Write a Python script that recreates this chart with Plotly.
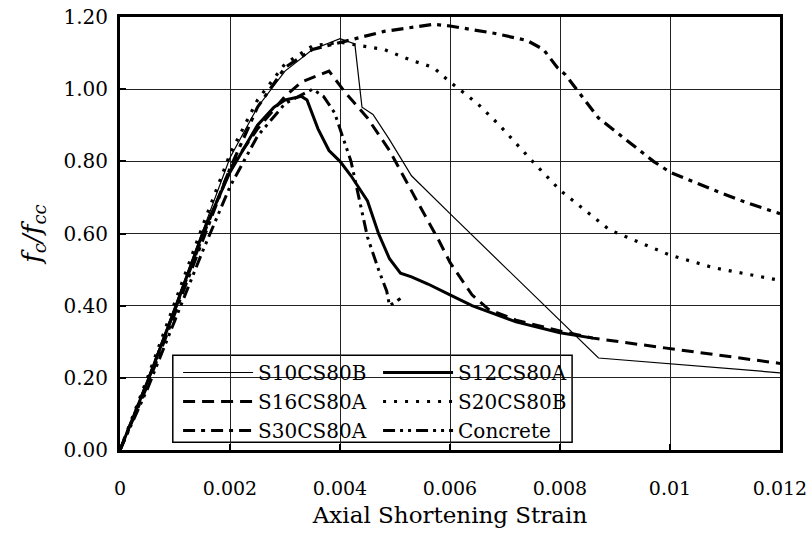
import plotly.graph_objects as go

# ---------------- data ----------------
s10_x = [0, 0.0005, 0.001, 0.0015, 0.002, 0.0025, 0.003, 0.0035, 0.004, 0.00427, 0.0044, 0.0046, 0.0049, 0.0053, 0.0055, 0.006, 0.0087, 0.012]
s10_y = [0, 0.195, 0.40, 0.605, 0.81, 0.95, 1.05, 1.11, 1.14, 1.125, 0.95, 0.93, 0.86, 0.76, 0.73, 0.655, 0.255, 0.214]

s12_x = [0, 0.0005, 0.001, 0.0015, 0.002, 0.0025, 0.0028, 0.003, 0.0033, 0.0034, 0.0036, 0.0038, 0.004, 0.0042, 0.0045, 0.0047, 0.0049, 0.0051, 0.0053, 0.0056, 0.006, 0.0064, 0.0072, 0.008, 0.0086]
s12_y = [0, 0.19, 0.39, 0.60, 0.77, 0.90, 0.95, 0.97, 0.98, 0.97, 0.89, 0.83, 0.80, 0.76, 0.69, 0.60, 0.53, 0.49, 0.48, 0.46, 0.43, 0.40, 0.355, 0.325, 0.31]

s16_x = [0, 0.0005, 0.001, 0.0015, 0.002, 0.0025, 0.003, 0.0033, 0.0038, 0.0041, 0.0045, 0.0049, 0.0054, 0.0058, 0.006, 0.0064, 0.0067, 0.0072, 0.008, 0.0086, 0.0099, 0.012]
s16_y = [0, 0.19, 0.39, 0.59, 0.78, 0.89, 0.98, 1.02, 1.05, 0.99, 0.92, 0.83, 0.69, 0.58, 0.52, 0.43, 0.39, 0.36, 0.33, 0.31, 0.283, 0.24]

s20_x = [0, 0.0005, 0.001, 0.0015, 0.002, 0.0025, 0.003, 0.0035, 0.004, 0.0048, 0.0053, 0.0057, 0.006, 0.0065, 0.0069, 0.0075, 0.008, 0.0089, 0.01, 0.0108, 0.012]
s20_y = [0, 0.20, 0.41, 0.62, 0.82, 0.97, 1.07, 1.12, 1.13, 1.11, 1.08, 1.06, 1.02, 0.96, 0.90, 0.80, 0.72, 0.61, 0.54, 0.505, 0.47]

s30_x = [0, 0.0005, 0.001, 0.0015, 0.002, 0.0025, 0.003, 0.0035, 0.004, 0.0048, 0.0057, 0.006, 0.0068, 0.0074, 0.0077, 0.00795, 0.0081, 0.0087, 0.0097, 0.01, 0.0108, 0.0114, 0.012]
s30_y = [0, 0.18, 0.38, 0.58, 0.78, 0.95, 1.06, 1.11, 1.13, 1.16, 1.18, 1.175, 1.155, 1.135, 1.11, 1.06, 1.04, 0.92, 0.80, 0.77, 0.72, 0.685, 0.655]

conc_x = [0, 0.0005, 0.001, 0.0015, 0.002, 0.0025, 0.003, 0.0035, 0.0037, 0.0039, 0.004, 0.0042, 0.0045, 0.0047, 0.00485, 0.0049, 0.0051]
conc_y = [0, 0.17, 0.36, 0.55, 0.73, 0.87, 0.96, 1.00, 0.98, 0.935, 0.89, 0.80, 0.59, 0.50, 0.44, 0.40, 0.42]

x_tickvals = [0, 0.002, 0.004, 0.006, 0.008, 0.01, 0.012]
x_ticktext = ["0", "0.002", "0.004", "0.006", "0.008", "0.01", "0.012"]
y_tickvals = [0, 0.2, 0.4, 0.6, 0.8, 1.0, 1.2]
y_ticktext = ["0.00", "0.20", "0.40", "0.60", "0.80", "1.00", "1.20"]

FONT = "DejaVu Serif"

fig = go.Figure()

series = [
    ("S10CS80B", s10_x, s10_y, dict(color="black", width=1.2, dash="solid"), "legend"),
    ("S16CS80A", s16_x, s16_y, dict(color="black", width=3, dash="12px,7px"), "legend"),
    ("S30CS80A", s30_x, s30_y, dict(color="black", width=3.2, dash="12px,6px,4px,6px"), "legend"),
    ("S12CS80A", s12_x, s12_y, dict(color="black", width=3, dash="solid"), "legend2"),
    ("S20CS80B", s20_x, s20_y, dict(color="black", width=3.2, dash="3px,8px"), "legend2"),
    ("Concrete", conc_x, conc_y, dict(color="black", width=3, dash="12px,5px,3px,5px,3px,5px"), "legend2"),
]
for name, xs, ys, ln, lg in series:
    fig.add_trace(go.Scatter(x=xs, y=ys, mode="lines", name=name, line=ln, legend=lg))

legend_common = dict(
    font=dict(family=FONT, size=20, color="black"),
    bgcolor="rgba(0,0,0,0)",
    borderwidth=0,
    xanchor="left",
    yanchor="top",
    tracegroupgap=0,
    itemwidth=70,
)

fig.update_layout(
    width=808,
    height=538,
    margin=dict(l=120, r=28, t=17, b=88, autoexpand=False),
    paper_bgcolor="white",
    plot_bgcolor="white",
    font=dict(family=FONT, size=20, color="black"),
    showlegend=True,
    legend=dict(x=0.088, y=0.224, **legend_common),
    legend2=dict(x=0.391, y=0.224, **legend_common),
    xaxis=dict(
        range=[0, 0.012],
        tickvals=x_tickvals,
        ticktext=x_ticktext,
        automargin=False,
        ticklabeloverflow="allow",
        showgrid=True,
        gridcolor="#222",
        gridwidth=1,
        showline=True,
        linecolor="black",
        linewidth=3,
        mirror=True,
        ticks="inside",
        ticklen=6,
        tickwidth=2,
        tickcolor="black",
        zeroline=False,
        ticklabelstandoff=19,
        tickfont=dict(family=FONT, size=19),
        title=dict(text="Axial Shortening Strain", font=dict(family=FONT, size=23), standoff=10),
    ),
    yaxis=dict(
        range=[0, 1.2],
        tickvals=y_tickvals,
        ticktext=y_ticktext,
        automargin=False,
        ticklabeloverflow="allow",
        showgrid=True,
        gridcolor="#222",
        gridwidth=1,
        showline=True,
        linecolor="black",
        linewidth=3,
        mirror=True,
        ticks="inside",
        ticklen=6,
        tickwidth=2,
        tickcolor="black",
        zeroline=False,
        ticklabelstandoff=5,
        tickfont=dict(family=FONT, size=20),
        title=dict(text="<i>f</i><sub><i>c</i></sub><i>/f</i><sub><i>cc</i></sub>", font=dict(family=FONT, size=26), standoff=15),
    ),
    shapes=[
        dict(type="rect", xref="paper", yref="paper", x0=0.08, x1=0.685, y0=0.018, y1=0.219,
             line=dict(color="black", width=1.5), fillcolor="white", layer="between"),
    ],
)

# remove the default 8px page margin so the 808x538 figure fills the window exactly
fig.write_html("out.html", config={"displayModeBar": False},
               post_script="document.body.style.margin='0';")
